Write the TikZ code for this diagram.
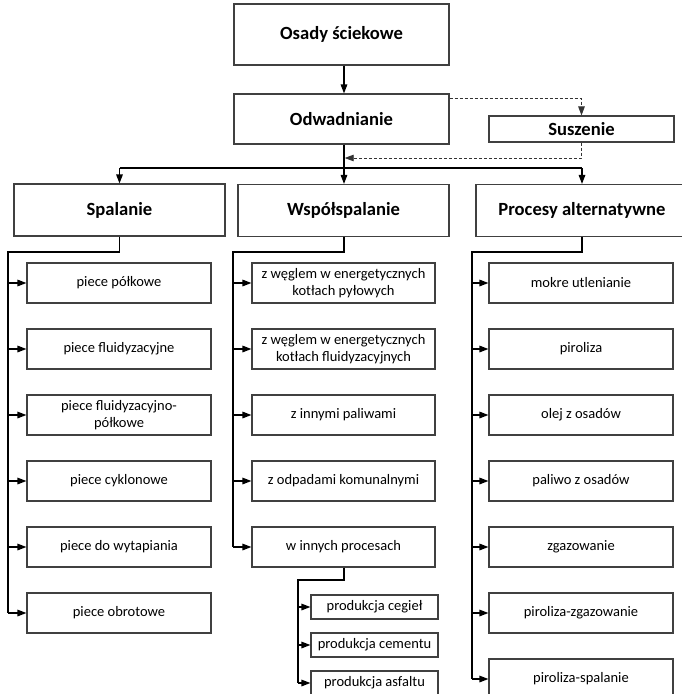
\documentclass[tikz,border=0pt]{standalone}
\usepackage{fontspec}
\setmainfont{Carlito}
\usetikzlibrary{arrows.meta,calc}

\tikzset{
  box/.style={draw=black!75, line width=1.1pt, fill=white, inner sep=0pt,
    align=center, font=\fontsize{14.5}{17.5}\selectfont},
  headbox/.style={box, font=\fontsize{18.6}{21}\selectfont\bfseries},
  conn/.style={line width=1.4pt, black},
  tip/.style={-{Triangle[length=9pt,width=6.5pt]}},
  dashconn/.style={line width=0.9pt, black!80, dash pattern=on 3pt off 2pt},
}

\begin{document}
\begin{tikzpicture}[x=1pt, y=-1pt]
\useasboundingbox (0,0) rectangle (681,694);

% top chain
\node[headbox, minimum width=215, minimum height=61] (osady) at (341.5,34.5) {Osady ściekowe};
\node[headbox, minimum width=215, minimum height=50] (odw) at (341.5,119) {Odwadnianie};
\node[headbox, minimum width=185, minimum height=26] (susz) at (581.5,129) {Suszenie};

% main branches
\node[headbox, minimum width=211, minimum height=52] (spal) at (119.5,210) {Spalanie};
\node[headbox, minimum width=211, minimum height=52] (wsp) at (343.5,210.5) {Współspalanie};
\node[headbox, minimum width=212, minimum height=52] (proc) at (582,210.5) {Procesy alternatywne};

% Spalanie children
\foreach \n/\y/\t in {s1/283/{piece półkowe}, s2/349/{piece fluidyzacyjne},
    s3/415/{piece fluidyzacyjno-\\półkowe}, s4/481/{piece cyklonowe},
    s5/547/{piece do wytapiania}, s6/613/{piece obrotowe}}
  \node[box, minimum width=184, minimum height=40] (\n) at (119,\y) {\t};

% Współspalanie children
\foreach \n/\y/\t in {w1/283/{z węglem w energetycznych\\kotłach pyłowych},
    w2/349/{z węglem w energetycznych\\kotłach fluidyzacyjnych},
    w3/415/{z innymi paliwami}, w4/481/{z odpadami komunalnymi},
    w5/547/{w innych procesach}}
  \node[box, minimum width=183, minimum height=40] (\n) at (343.5,\y) {\t};

% w innych procesach children
\foreach \n/\y/\t in {p1/607/{produkcja cegieł}, p2/645/{produkcja cementu},
    p3/683/{produkcja asfaltu}}
  \node[box, minimum width=127, minimum height=24] (\n) at (374.5,\y) {\t};

% Procesy alternatywne children
\foreach \n/\y/\t in {a1/283/{mokre utlenianie}, a2/349/{piroliza},
    a3/415/{olej z osadów}, a4/481/{paliwo z osadów}, a5/547/{zgazowanie},
    a6/613/{piroliza-zgazowanie}, a7/679/{piroliza-spalanie}}
  \node[box, minimum width=184, minimum height=40] (\n) at (581,\y) {\t};

% trunk coordinates
\coordinate (mid) at (344,0);
\coordinate (lx) at (8,0);
\coordinate (mx) at (233,0);
\coordinate (px) at (298,0);
\coordinate (rx) at (472,0);

% top connectors
\draw[conn, tip] (osady.south -| mid) -- (odw.north -| mid);
\draw[conn, tip] (odw.south -| mid) -- (wsp.north -| mid);
\draw[conn] (spal.north |- 0,168) -- (proc.north |- 0,168);
\draw[conn, tip] (spal.north |- 0,168) -- (spal.north);
\draw[conn, tip] (proc.north |- 0,168) -- (proc.north);

% drying loop
\draw[dashconn, tip] ($(odw.north east)+(0,5)$) -| (susz.north);
\draw[dashconn, tip] (susz.south) |- ($(mid |- 0,158)+(0.7,0)$);

% Spalanie tree
\draw[conn] (spal.south) -- (spal.south |- 0,252) -- (lx |- 0,252) -- (lx |- s6);
\foreach \n in {s1,s2,s3,s4,s5,s6}
  \draw[conn, tip] (lx |- \n) -- (\n.west);

% Współspalanie tree
\draw[conn] (wsp.south -| mid) -- (mid |- 0,252) -- (mx |- 0,252) -- (mx |- w5);
\foreach \n in {w1,w2,w3,w4,w5}
  \draw[conn, tip] (mx |- \n) -- (\n.west);

% w innych procesach tree
\draw[conn] (w5.south -| mid) -- (mid |- 0,580) -- (px |- 0,580) -- (px |- p3);
\foreach \n in {p1,p2,p3}
  \draw[conn, tip] (px |- \n) -- (\n.west);

% Procesy alternatywne tree
\draw[conn] (proc.south) -- (proc.south |- 0,252) -- (rx |- 0,252) -- (rx |- a7);
\foreach \n in {a1,a2,a3,a4,a5,a6,a7}
  \draw[conn, tip] (rx |- \n) -- (\n.west);

\end{tikzpicture}
\end{document}
